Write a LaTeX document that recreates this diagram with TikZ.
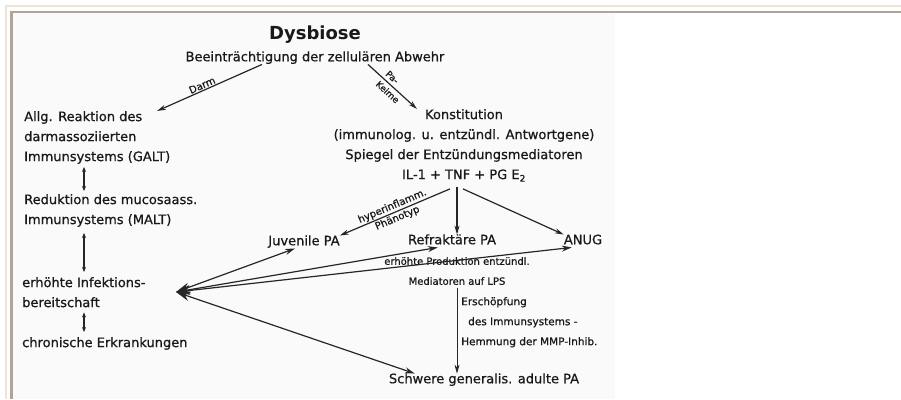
\documentclass[tikz,border=0pt]{standalone}
\usepackage{fontspec}
\setmainfont{DejaVu Sans}[UprightFeatures={FakeBold=0.7}]
\usetikzlibrary{arrows.meta,calc}

\definecolor{rahmhell}{HTML}{EDE3D6}
\definecolor{rahmdunkel}{HTML}{B1A395}

\begin{document}
\begin{tikzpicture}[
  x=1pt,y=-1pt,
  font=\fontsize{13}{20}\selectfont,
  >={Stealth[length=9pt,width=5pt]},
  txt/.style={inner sep=0pt,text=black!90},
  one/.style={txt,text height=9.5pt,text depth=3pt},
  blk/.style={txt,align=left,anchor=north west},
  lab/.style={inner sep=1pt,font=\fontsize{10}{12}\selectfont,text=black!90},
  pf/.style={->,line width=1.2pt,black!85},
  hubpf/.style={{Stealth[length=14pt,width=9pt]}-{Stealth[length=10pt,width=6pt]},line width=1.2pt,black!85},
  dpf/.style={>={Stealth[length=5pt,width=4pt]},<->,line width=1.4pt,black!85}
]

% Hintergrund und Rahmen (wie Screenshot)
\useasboundingbox (0,0) rectangle (901,399);
\fill[black!2] (12,13) rectangle (615,399);
\draw[line width=2pt,rahmhell] (6,399) -- (6,6) -- (901,6);
\draw[line width=2.2pt,rahmdunkel] (11.5,399) -- (11.5,12) -- (901,12);

\def\xl{24}     % linke Spalte
\coordinate (sp) at (84,0);    % x der Doppelpfeile

% --- oben ---
\node[txt,font=\fontsize{18}{20}\selectfont\bfseries] (dysb) at (315,35) {Dysbiose};
\node[one] (abw) at (315,58) {Beeinträchtigung der zellulären Abwehr};

% --- linke Spalte ---
\node[blk] (galt) at (\xl,111) {Allg. Reaktion des\\darmassoziierten\\Immunsystems (GALT)};
\node[blk] (malt) at (\xl,194) {Reduktion des mucosaass.\\Immunsystems (MALT)};
\node[blk] (infekt) at (22,277) {erhöhte Infektions-\\bereitschaft};
\node[blk] (chron) at (22,337) {chronische Erkrankungen};

\draw[dpf,shorten <=3pt,shorten >=3pt] (galt.south -| sp) -- (malt.north -| sp);
\draw[dpf,shorten <=6pt,shorten >=5pt] (malt.south -| sp) -- (infekt.north -| sp);
\draw[dpf,shorten <=5pt,shorten >=5pt] (infekt.south -| sp) -- (chron.north -| sp);

% --- rechte Seite ---
\node[txt,align=center,anchor=north] (konst) at (464,109)
  {Konstitution\\(immunolog. u. entzündl. Antwortgene)\\Spiegel der Entzündungsmediatoren\\IL-1 + TNF + PG E\textsubscript{2}};
\node[one] (juv) at (304,242) {Juvenile PA};
\node[one] (refr) at (452,241) {Refraktäre PA};
\node[one] (anug) at (583,241) {ANUG};
\node[txt,align=center,anchor=north,font=\fontsize{10}{20}\selectfont] (prod) at (457,257)
  {erhöhte Produktion entzündl.\\Mediatoren auf LPS};
\node[blk,font=\fontsize{10.5}{20}\selectfont] (ersch) at (461,297)
  {Erschöpfung\\\hspace{7pt}des Immunsystems -\\Hemmung der MMP-Inhib.};
\node[one] (schwer) at (484,380) {Schwere generalis. adulte PA};

% Pfeile von oben
\draw[pf] ($(abw.south)+(-53,0)$) -- ($(galt.north west)+(133,0)$)
  node[pos=0.55,above,sloped,lab]{Darm};
\draw[pf] ($(abw.south)+(53,0)$) -- ($(konst.north)+(-47,0)$)
  node[pos=0.4,above=2pt,sloped,lab,font=\fontsize{9}{10}\selectfont]{Pa-}
  node[pos=0.5,below=2pt,sloped,lab,font=\fontsize{9}{10}\selectfont]{Keime};

% Verzweigung unter IL-1 + TNF + PG E2
\coordinate (ks) at ($(konst.south)+(-7,5)$);
\draw[pf] ($(ks)+(-7,2)$) -- (juv.north east)
  node[midway,above,sloped,lab]{hyperinflamm.} node[midway,below,sloped,lab]{Phänotyp};
\draw[pf] (ks) -- (ks |- refr.north);
\draw[pf] ($(ks)+(6,2)$) -- (anug.north west);

% Infektionsbereitschaft <-> Krankheitsbilder
\coordinate (hub) at (176,292);
\draw[hubpf] (hub) -- ($(juv.south)+(-9,0)$);
\draw[hubpf] (hub) -- ($(refr.south west)+(30,0)$);
\draw[hubpf] (hub) -- ($(anug.south west)+(8,0)$);
\draw[hubpf] (hub) -- ($(schwer.north west)+(26,0)$);

\draw[pf,line width=0.7pt,shorten <=3pt] (prod.south) -- (prod.south |- schwer.north);

\end{tikzpicture}
\end{document}
